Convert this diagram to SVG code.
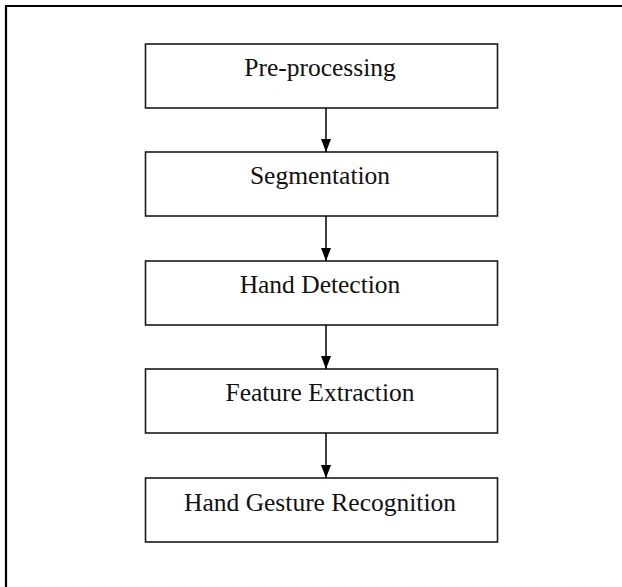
<svg xmlns="http://www.w3.org/2000/svg" width="622" height="587" viewBox="0 0 622 587">
<style>
.box{fill:#fff;stroke:#1a1a1a;stroke-width:1.6}
.lbl{font-family:"Liberation Serif","Times New Roman",serif;font-size:25.5px;fill:#111;text-anchor:middle}
.edge{stroke:#000;stroke-width:1.5;fill:none}
.frame{stroke:#000;stroke-width:2.2;fill:none}
</style>
<defs>
<marker id="ah" markerUnits="userSpaceOnUse" markerWidth="14" markerHeight="11" refX="13" refY="5" orient="auto">
<path d="M0,0 L13,5 L0,10 z" fill="#000"/>
</marker>
</defs>
<rect width="622" height="587" fill="#fff"/>
<path class="frame" d="M6,587 L6,6 L622,6"/>
<g id="n1"><rect class="box" x="145.5" y="44" width="352" height="64"/><text class="lbl" x="320" y="76">Pre-processing</text></g>
<g id="n2"><rect class="box" x="145.5" y="152" width="352" height="64"/><text class="lbl" x="320" y="184">Segmentation</text></g>
<g id="n3"><rect class="box" x="145.5" y="261" width="352" height="64"/><text class="lbl" x="320" y="293">Hand Detection</text></g>
<g id="n4"><rect class="box" x="145.5" y="369" width="352" height="64"/><text class="lbl" x="320" y="401">Feature Extraction</text></g>
<g id="n5"><rect class="box" x="145.5" y="478" width="352" height="64"/><text class="lbl" x="320" y="511">Hand Gesture Recognition</text></g>
<g id="edges">
<line class="edge" x1="326" y1="108" x2="326" y2="152" marker-end="url(#ah)"/>
<line class="edge" x1="326" y1="216" x2="326" y2="261" marker-end="url(#ah)"/>
<line class="edge" x1="326" y1="325" x2="326" y2="369" marker-end="url(#ah)"/>
<line class="edge" x1="326" y1="433" x2="326" y2="478" marker-end="url(#ah)"/>
</g>
</svg>
